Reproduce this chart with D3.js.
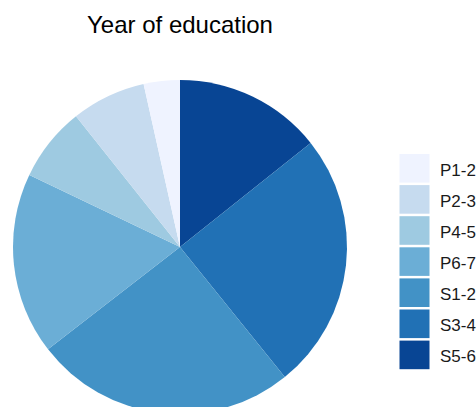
<!DOCTYPE html>
<html>
<head>
<meta charset="utf-8">
<script src="https://cdn.jsdelivr.net/npm/d3@7"></script>
<style>
  body { margin: 0; background: #fff; }
  svg { display: block; font-family: "Liberation Sans", Arial, sans-serif; }
</style>
</head>
<body>
<div id="chart"></div>
<script>
// shares of each school year band (percent)
const categories = ["P1-2", "P2-3", "P4-5", "P6-7", "S1-2", "S3-4", "S5-6"];
const shares = [3.5, 7.2, 7.2, 17.6, 25.3, 24.9, 14.3];
const colours = ["#EFF3FF", "#C6DBEF", "#9ECAE1", "#6BAED6", "#4292C6", "#2171B5", "#084594"];

const width = 476, height = 407;
const cx = 180, cy = 247, radius = 167;

const data = categories.map((c, i) => ({ name: c, value: shares[i] }));

const color = d3.scaleOrdinal().domain(categories).range(colours);

const svg = d3.select("#chart").append("svg")
    .attr("width", width)
    .attr("height", height);

// slices go clockwise from 12 o'clock: S5-6 first, P1-2 last
const pie = d3.pie()
    .value(d => d.value)
    .sort(null);

const arcs = pie(data.slice().reverse());

const arc = d3.arc().innerRadius(0).outerRadius(radius);

svg.append("g")
    .attr("transform", `translate(${cx},${cy})`)
  .selectAll("path")
  .data(arcs)
  .join("path")
    .attr("d", arc)
    .attr("fill", d => color(d.data.name));

svg.append("text")
    .attr("x", 180)
    .attr("y", 33)
    .attr("text-anchor", "middle")
    .style("font-size", "24px")
    .style("fill", "#000")
    .text("Year of education");

// legend
const key = d3.scaleBand()
    .domain(categories)
    .range([154, 154 + 31.1 * categories.length]);

const legend = svg.append("g");

legend.selectAll("rect")
  .data(categories)
  .join("rect")
    .attr("x", 399.5)
    .attr("y", d => key(d))
    .attr("width", 30)
    .attr("height", 28.6)
    .attr("fill", d => color(d));

legend.selectAll("text")
  .data(categories)
  .join("text")
    .attr("x", 440)
    .attr("y", d => key(d) + 14.3 + 7.3)
    .style("font-size", "17px")
    .style("fill", "#1a1a1a")
    .text(d => d);
</script>
</body>
</html>
